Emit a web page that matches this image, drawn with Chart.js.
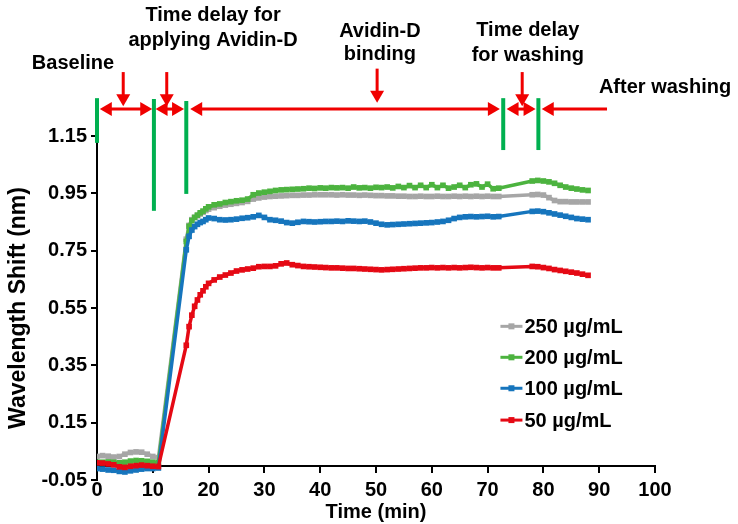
<!DOCTYPE html>
<html>
<head>
<meta charset="utf-8">
<script src="https://cdn.jsdelivr.net/npm/chart.js@4.4.1/dist/chart.umd.min.js"></script>
<style>
  body { margin: 0; background: #fff; }
  #chart { display: block; }
</style>
</head>
<body>
<canvas id="chart" width="738" height="524"></canvas>
<script>
// time (min): baseline, gap while applying Avidin-D, binding, gap while washing, after washing
const times = [
  0, 1, 2, 3, 4, 5, 6, 7, 8, 9, 10, 11,
  16, 16.5, 17, 17.5, 18, 18.5, 19, 19.5, 20,
  21, 22, 23, 24, 25, 26, 27, 28, 29, 30,
  31, 32, 33, 34, 35, 36, 37, 38, 39, 40,
  41, 42, 43, 44, 45, 46, 47, 48, 49, 50,
  51, 52, 53, 54, 55, 56, 57, 58, 59, 60,
  61, 62, 63, 64, 65, 66, 67, 68, 69, 70,
  71, 72,
  78, 79, 80, 81, 82, 83, 84, 85, 86, 87, 88
];

const shift250 = [
  0.032, 0.035, 0.033, 0.030, 0.032, 0.040, 0.046, 0.048, 0.047, 0.040, 0.032, 0.028,
  0.790, 0.838, 0.858, 0.866, 0.872, 0.878, 0.884, 0.890, 0.895,
  0.900, 0.905, 0.909, 0.912, 0.915, 0.918, 0.922, 0.930, 0.934, 0.937,
  0.939, 0.940, 0.941, 0.942, 0.943, 0.943, 0.944, 0.944, 0.945, 0.945,
  0.945, 0.945, 0.944, 0.945, 0.944, 0.944, 0.943, 0.944, 0.943, 0.942,
  0.942, 0.941, 0.941, 0.940, 0.940, 0.939, 0.939, 0.940, 0.939, 0.939,
  0.940, 0.939, 0.939, 0.940, 0.939, 0.940, 0.939, 0.940, 0.939, 0.940,
  0.939, 0.939,
  0.945, 0.946, 0.944, 0.935, 0.925, 0.921, 0.921, 0.920, 0.920, 0.920, 0.920
];

const shift200 = [
  0.012, 0.012, 0.013, 0.012, 0.010, 0.012, 0.016, 0.018, 0.017, 0.015, 0.012, 0.010,
  0.782, 0.835, 0.855, 0.866, 0.874, 0.882, 0.888, 0.896, 0.903,
  0.910, 0.913, 0.918, 0.921, 0.924, 0.926, 0.930, 0.945, 0.951, 0.954,
  0.957, 0.960, 0.962, 0.963, 0.964, 0.965, 0.966, 0.968, 0.967, 0.969,
  0.968, 0.970, 0.969, 0.970, 0.968, 0.972, 0.969, 0.970, 0.968, 0.971,
  0.970, 0.972, 0.969, 0.974, 0.970, 0.977, 0.970, 0.978, 0.970, 0.980,
  0.970, 0.978, 0.968, 0.972, 0.978, 0.970, 0.980, 0.983, 0.972, 0.982,
  0.966, 0.968,
  0.993, 0.995, 0.993, 0.990, 0.985, 0.978, 0.972, 0.968, 0.965, 0.962, 0.960
];

const shift100 = [
  -0.010, -0.012, -0.015, -0.016, -0.020, -0.022, -0.018, -0.015, -0.012, -0.010, -0.010, -0.008,
  0.753, 0.800, 0.822, 0.834, 0.842, 0.848, 0.852, 0.858, 0.864,
  0.862, 0.858, 0.857, 0.858, 0.860, 0.863, 0.865, 0.868, 0.873, 0.866,
  0.858, 0.856, 0.853, 0.848, 0.846, 0.849, 0.852, 0.851, 0.850, 0.851,
  0.852, 0.852, 0.853, 0.852, 0.854, 0.853, 0.852, 0.853, 0.850, 0.846,
  0.842, 0.840, 0.841, 0.842, 0.843, 0.844, 0.845, 0.846, 0.847, 0.848,
  0.850, 0.852, 0.856, 0.862, 0.866, 0.868, 0.869, 0.868, 0.869, 0.870,
  0.868, 0.869,
  0.887, 0.888, 0.886, 0.882, 0.878, 0.874, 0.870, 0.866, 0.862, 0.860, 0.858
];

const shift50 = [
  0.010, 0.009, 0.006, 0.003, -0.004, -0.006, -0.002, 0.000, 0.002, 0.000, -0.002, -0.003,
  0.420, 0.485, 0.525, 0.556, 0.578, 0.596, 0.610, 0.624, 0.636,
  0.648, 0.658, 0.665, 0.672, 0.679, 0.683, 0.686, 0.689, 0.694, 0.695,
  0.695, 0.697, 0.704, 0.707, 0.701, 0.698, 0.695, 0.694, 0.693, 0.692,
  0.691, 0.690, 0.690, 0.689, 0.688, 0.688, 0.687, 0.686, 0.685, 0.684,
  0.683, 0.684, 0.685, 0.686, 0.687, 0.688, 0.689, 0.690, 0.690, 0.691,
  0.690, 0.691, 0.690, 0.691, 0.690, 0.691, 0.692, 0.691, 0.690, 0.691,
  0.690, 0.690,
  0.695, 0.694, 0.691, 0.688, 0.684, 0.681, 0.678, 0.675, 0.672, 0.668, 0.664
];

const seriesNames = ["250 µg/mL", "200 µg/mL", "100 µg/mL", "50 µg/mL"];
const seriesValues = [shift250, shift200, shift100, shift50];
const seriesColors = ["#a6a6a6", "#4cb33f", "#1675bd", "#e50914"];

const yTicks = [-0.05, 0.15, 0.35, 0.55, 0.75, 0.95, 1.15];

// phase annotations above the plot (in axis units)
const phaseLines = [[0, 1.282, 1.126], [10.2, 1.279, 0.889], [16.0, 1.272, 0.948], [72.8, 1.282, 1.101], [79.1, 1.282, 1.101]];
const spanArrows = [[0.5, 9.9, true, true], [10.5, 15.6, true, true], [16.7, 72.2, true, true], [73.4, 78.6, true, true], [79.7, 91.4, true, false]];
const pointers = [[4.7, 1.373, 1.254], [12.5, 1.373, 1.254], [50.2, 1.385, 1.266], [76.2, 1.373, 1.254]];
const phaseTexts = [
  ["Baseline", -4.3, 1.404],
  ["Time delay for", 20.8, 1.571],
  ["applying Avidin-D", 20.8, 1.484],
  ["Avidin-D", 50.7, 1.515],
  ["binding", 50.7, 1.435],
  ["Time delay", 77.2, 1.519],
  ["for washing", 77.2, 1.432],
  ["After washing", 101.8, 1.320]
];
const arrowY = 1.244;
const legendX = 72.3;
const legendRows = [0.486, 0.378, 0.270, 0.159];

Chart.defaults.font.family = "'Liberation Sans', Arial, sans-serif";
Chart.defaults.font.size = 20;
Chart.defaults.font.weight = "bold";
Chart.defaults.color = "#000";

const datasets = seriesNames.map((name, i) => ({
  label: name,
  data: times.map((t, j) => ({ x: t, y: seriesValues[i][j] })),
  borderColor: seriesColors[i],
  backgroundColor: seriesColors[i],
  borderWidth: 3.5,
  pointStyle: "rect",
  pointRadius: 4,
  pointBorderWidth: 0,
  pointBackgroundColor: seriesColors[i],
  tension: 0,
  order: 3 - i
}));

function arrowHead(ctx, x, y, dx, dy) {
  // tip at (x, y), pointing along (dx, dy)
  const len = 12, half = 7;
  ctx.beginPath();
  ctx.moveTo(x, y);
  ctx.lineTo(x - dx * len - dy * half, y - dy * len - dx * half);
  ctx.lineTo(x - dx * len + dy * half, y - dy * len + dx * half);
  ctx.closePath();
  ctx.fill();
}

const notes = {
  id: "notes",
  afterDatasetsDraw(chart) {
    const { ctx, scales: { x, y } } = chart;
    ctx.save();

    ctx.strokeStyle = "#00b050";
    ctx.lineWidth = 4;
    phaseLines.forEach(([t, top, bottom]) => {
      const px = x.getPixelForValue(t);
      ctx.beginPath();
      ctx.moveTo(px, y.getPixelForValue(top));
      ctx.lineTo(px, y.getPixelForValue(bottom));
      ctx.stroke();
    });

    ctx.strokeStyle = "#f00000";
    ctx.fillStyle = "#f00000";
    ctx.lineWidth = 3;
    const ay = y.getPixelForValue(arrowY);
    spanArrows.forEach(([t1, t2, headL, headR]) => {
      const p1 = x.getPixelForValue(t1), p2 = x.getPixelForValue(t2);
      ctx.beginPath();
      ctx.moveTo(p1 + (headL ? 8 : 0), ay);
      ctx.lineTo(p2 - (headR ? 8 : 0), ay);
      ctx.stroke();
      if (headL) arrowHead(ctx, p1, ay, -1, 0);
      if (headR) arrowHead(ctx, p2, ay, 1, 0);
    });
    pointers.forEach(([t, top, tip]) => {
      const px = x.getPixelForValue(t);
      const py = y.getPixelForValue(tip);
      ctx.beginPath();
      ctx.moveTo(px, y.getPixelForValue(top));
      ctx.lineTo(px, py - 8);
      ctx.stroke();
      arrowHead(ctx, px, py, 0, 1);
    });

    ctx.fillStyle = "#000";
    ctx.font = "bold 20px 'Liberation Sans', Arial, sans-serif";
    ctx.textAlign = "center";
    ctx.textBaseline = "middle";
    phaseTexts.forEach(([txt, t, v]) => {
      ctx.fillText(txt, x.getPixelForValue(t), y.getPixelForValue(v));
    });

    // legend
    const lx = x.getPixelForValue(legendX);
    ctx.textAlign = "left";
    legendRows.forEach((v, i) => {
      const ly = y.getPixelForValue(v);
      ctx.strokeStyle = seriesColors[i];
      ctx.fillStyle = seriesColors[i];
      ctx.lineWidth = 3;
      ctx.beginPath();
      ctx.moveTo(lx, ly);
      ctx.lineTo(lx + 22, ly);
      ctx.stroke();
      ctx.fillRect(lx + 8, ly - 3, 6, 6);
      ctx.fillStyle = "#000";
      ctx.fillText(seriesNames[i], lx + 24, ly + 1);
    });

    ctx.restore();
  }
};

new Chart(document.getElementById("chart"), {
  type: "line",
  data: { datasets: datasets },
  options: {
    responsive: false,
    animation: false,
    layout: { padding: { left: 0, right: 83, top: 136, bottom: 44 } },
    plugins: {
      legend: { display: false },
      tooltip: { enabled: false }
    },
    scales: {
      x: {
        type: "linear",
        position: { y: 0 },
        min: 0,
        max: 100,
        border: { color: "#000", width: 2 },
        grid: { drawOnChartArea: false, tickLength: 6, color: "#000", lineWidth: 2 },
        ticks: { stepSize: 10, autoSkip: false, maxRotation: 0, padding: 9, color: "#000",
                 font: { size: 20, weight: "bold", lineHeight: 1 } },
        title: { display: true, text: "Time (min)", color: "#000",
                 font: { size: 20, weight: "bold", lineHeight: 1 }, padding: { top: -7, bottom: 0 } }
      },
      y: {
        min: -0.05,
        max: 1.15,
        afterBuildTicks: scale => { scale.ticks = yTicks.map(v => ({ value: v })); },
        afterFit: scale => { scale.width = 97; },
        border: { color: "#000", width: 2 },
        grid: { drawOnChartArea: false, tickLength: 6, color: "#000", lineWidth: 2 },
        ticks: { padding: 4, color: "#000", font: { size: 20, weight: "bold" },
                 callback: v => v.toFixed(2) },
        title: { display: true, text: "Wavelength Shift (nm)", color: "#000",
                 font: { size: 23, weight: "bold" }, padding: { top: 5, bottom: 4 } }
      }
    }
  },
  plugins: [notes]
});
</script>
</body>
</html>
